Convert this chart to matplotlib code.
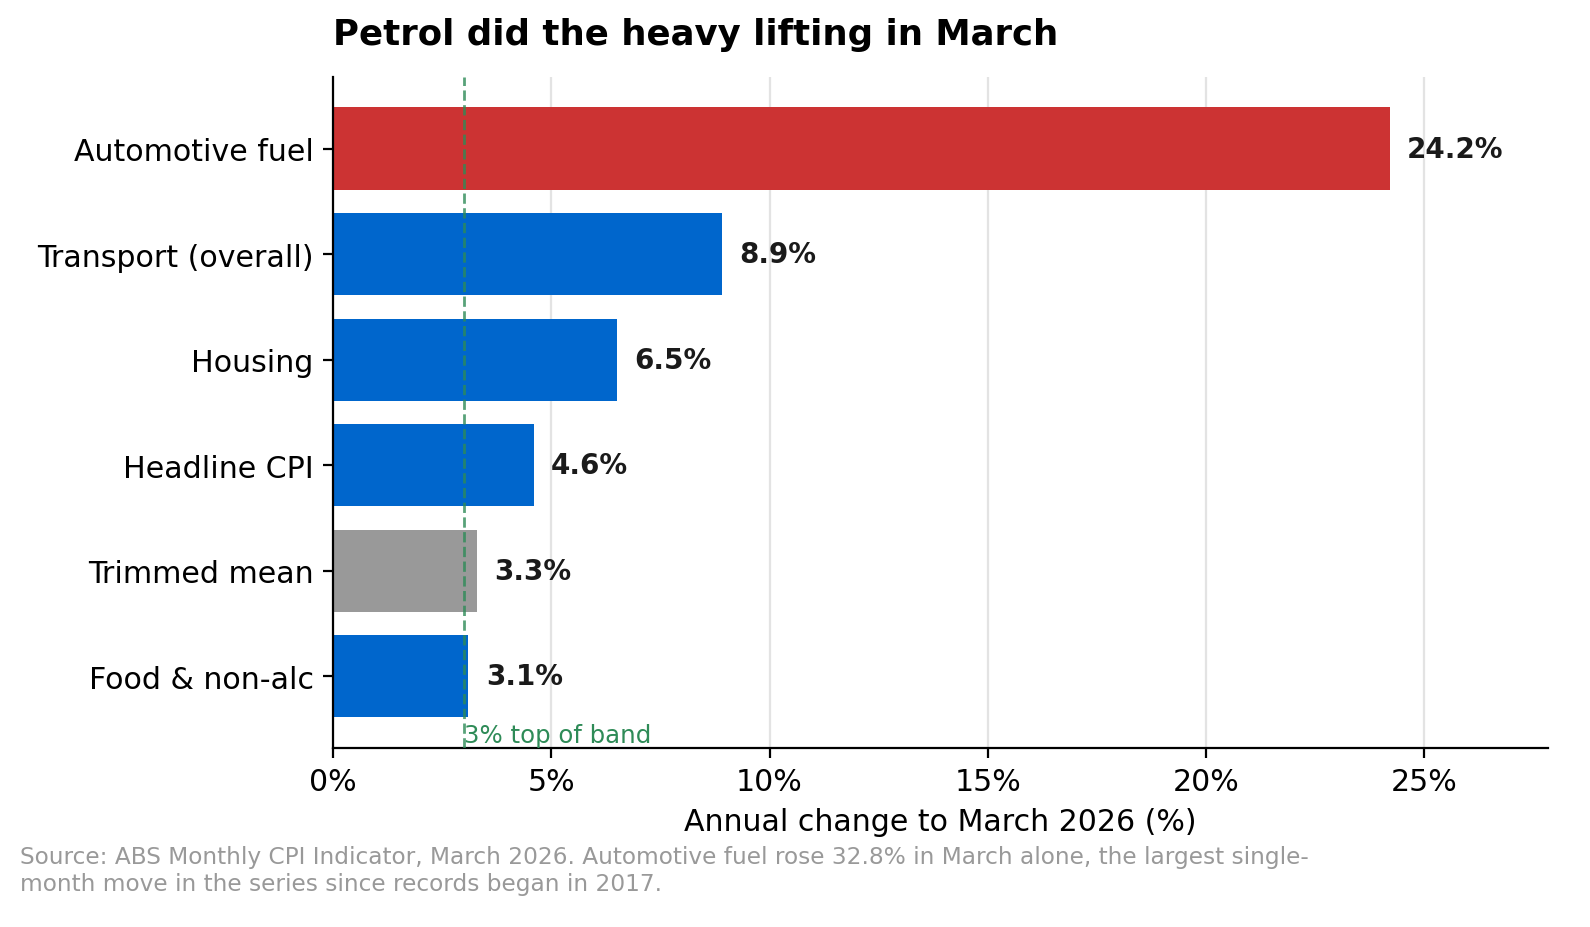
import matplotlib
matplotlib.use("Agg")
from matplotlib import pyplot as plt

categories = ['Automotive fuel', 'Transport (overall)', 'Housing',
              'Headline CPI', 'Trimmed mean', 'Food & non-alc']
values = [24.2, 8.9, 6.5, 4.6, 3.3, 3.1]
colors = ['#CC3333', '#0066CC', '#0066CC', '#0066CC', '#999999', '#0066CC']
band_top = 3.0
xticks = [0, 5, 10, 15, 20, 25]

plt.rcParams['font.family'] = ['DejaVu Sans']

fig = plt.figure(figsize=(7.95, 4.64), dpi=200)
ax = fig.add_axes([0.2094, 0.193, 0.7642, 0.723])

ypos = list(range(len(categories)))[::-1]
ax.barh(ypos, values, height=0.78, color=colors, zorder=2)
for y, v in zip(ypos, values):
    ax.text(v + 0.4, y, f'{v:.1f}%', va='center', ha='left',
            fontsize=10, fontweight='bold', color='#1a1a1a')

ax.axvline(band_top, color='#2E8B57', linestyle='--', linewidth=1, alpha=0.8, zorder=3)
ax.text(band_top, -0.67, '3% top of band', color='#2E8B57', fontsize=8.8,
        ha='left', va='bottom')

ax.set_yticks(ypos)
ax.set_yticklabels(categories, fontsize=10.8)
ax.set_xticks(xticks)
ax.set_xticklabels([f'{t}%' for t in xticks], fontsize=10.8)
ax.set_xlim(0, max(values) * 1.15)
ax.set_xlabel('Annual change to March 2026 (%)', fontsize=10.8)
ax.grid(axis='x', color='#e3e3e3', linewidth=0.8, zorder=0)
ax.set_axisbelow(True)
ax.spines['top'].set_visible(False)
ax.spines['right'].set_visible(False)
ax.set_title('Petrol did the heavy lifting in March', fontsize=12.8,
             fontweight='bold', loc='left', pad=12)

fig.text(0.0126, 0.035, 'Source: ABS Monthly CPI Indicator, March 2026. Automotive fuel rose 32.8% in March alone, the largest single-\nmonth move in the series since records began in 2017.',
         fontsize=8.4, color='#999999', ha='left', va='bottom')

fig.savefig('out.png', dpi=200)
